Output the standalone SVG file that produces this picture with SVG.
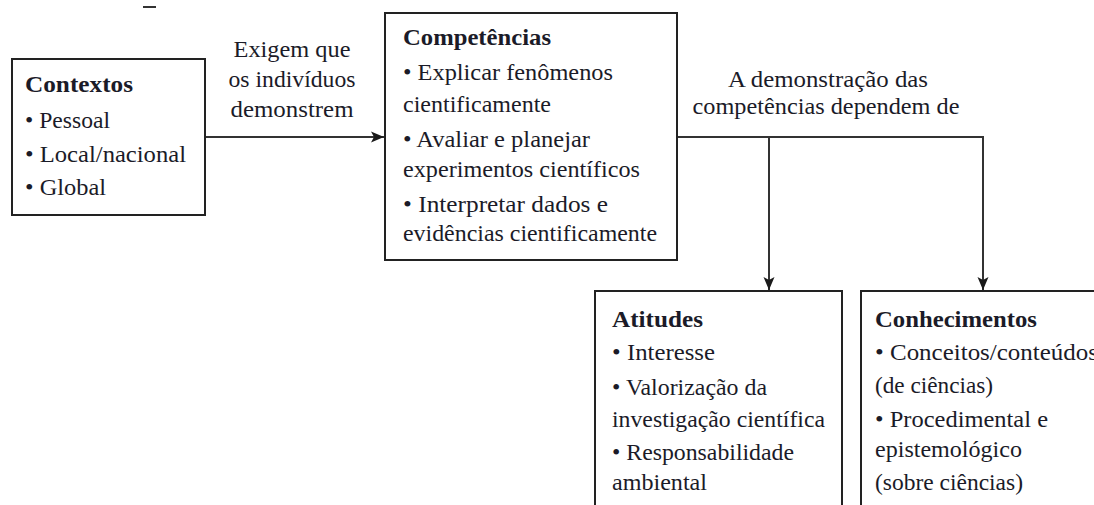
<svg xmlns="http://www.w3.org/2000/svg" width="1094" height="505" viewBox="0 0 1094 505">
  <defs>
    <marker id="arrow" markerUnits="userSpaceOnUse" markerWidth="14" markerHeight="12" refX="13" refY="6" orient="auto">
      <path d="M0,0.5 L13,6 L0,11.5 L3,6 Z" fill="#1a1a1a"/>
    </marker>
    <style>
      .box { fill: #ffffff; stroke: #222222; stroke-width: 2; }
      .conn { fill: none; stroke: #333333; stroke-width: 2; }
      text { font-family: "Liberation Serif", "DejaVu Serif", serif; font-size: 23px; fill: #1b1b28; }
      .title { font-weight: bold; }
      .mid { text-anchor: middle; }
    </style>
  </defs>
  <rect x="0" y="0" width="1094" height="505" fill="#ffffff"/>
  <rect x="143" y="6" width="13" height="2" fill="#333333"/>

  <g id="connectors">
    <path class="conn" d="M205,137 H384" marker-end="url(#arrow)"/>
    <path class="conn" d="M677,137 H983 V290" marker-end="url(#arrow)"/>
    <path class="conn" d="M769,137 V290" marker-end="url(#arrow)"/>
    <g id="label-exigem">
      <text class="mid" x="292" y="57" textLength="117" lengthAdjust="spacingAndGlyphs">Exigem que</text>
      <text class="mid" x="292" y="87" textLength="127" lengthAdjust="spacingAndGlyphs">os indivíduos</text>
      <text class="mid" x="292" y="117" textLength="123" lengthAdjust="spacingAndGlyphs">demonstrem</text>
    </g>
    <g id="label-demonstracao">
      <text class="mid" x="828" y="87" textLength="200" lengthAdjust="spacingAndGlyphs">A demonstração das</text>
      <text class="mid" x="826" y="114" textLength="267" lengthAdjust="spacingAndGlyphs">competências dependem de</text>
    </g>
  </g>

  <g id="contextos">
    <rect class="box" x="12" y="59" width="193" height="156"/>
    <text class="title" x="25" y="92" textLength="108" lengthAdjust="spacingAndGlyphs">Contextos</text>
    <text x="25" y="128" textLength="85" lengthAdjust="spacingAndGlyphs">• Pessoal</text>
    <text x="25" y="162" textLength="161" lengthAdjust="spacingAndGlyphs">• Local/nacional</text>
    <text x="25" y="195" textLength="81" lengthAdjust="spacingAndGlyphs">• Global</text>
  </g>

  <g id="competencias">
    <rect class="box" x="385" y="13" width="292" height="247"/>
    <text class="title" x="403" y="45" textLength="148" lengthAdjust="spacingAndGlyphs">Competências</text>
    <text x="403" y="80" textLength="210" lengthAdjust="spacingAndGlyphs">• Explicar fenômenos</text>
    <text x="403" y="112" textLength="148" lengthAdjust="spacingAndGlyphs">cientificamente</text>
    <text x="403" y="147" textLength="187" lengthAdjust="spacingAndGlyphs">• Avaliar e planejar</text>
    <text x="403" y="177" textLength="237" lengthAdjust="spacingAndGlyphs">experimentos científicos</text>
    <text x="403" y="212" textLength="205" lengthAdjust="spacingAndGlyphs">• Interpretar dados e</text>
    <text x="403" y="241" textLength="254" lengthAdjust="spacingAndGlyphs">evidências cientificamente</text>
  </g>

  <g id="atitudes">
    <rect class="box" x="595" y="291" width="247" height="260"/>
    <text class="title" x="612" y="327" textLength="91" lengthAdjust="spacingAndGlyphs">Atitudes</text>
    <text x="612" y="360" textLength="103" lengthAdjust="spacingAndGlyphs">• Interesse</text>
    <text x="612" y="395" textLength="155" lengthAdjust="spacingAndGlyphs">• Valorização da</text>
    <text x="612" y="427" textLength="213" lengthAdjust="spacingAndGlyphs">investigação científica</text>
    <text x="612" y="460" textLength="182" lengthAdjust="spacingAndGlyphs">• Responsabilidade</text>
    <text x="612" y="490" textLength="95" lengthAdjust="spacingAndGlyphs">ambiental</text>
  </g>

  <g id="conhecimentos">
    <rect class="box" x="861" y="291" width="300" height="260"/>
    <text class="title" x="875" y="327" textLength="162" lengthAdjust="spacingAndGlyphs">Conhecimentos</text>
    <text x="875" y="360" textLength="223" lengthAdjust="spacingAndGlyphs">• Conceitos/conteúdos</text>
    <text x="875" y="393" textLength="118" lengthAdjust="spacingAndGlyphs">(de ciências)</text>
    <text x="875" y="427" textLength="173" lengthAdjust="spacingAndGlyphs">• Procedimental e</text>
    <text x="875" y="457" textLength="147" lengthAdjust="spacingAndGlyphs">epistemológico</text>
    <text x="875" y="490" textLength="148" lengthAdjust="spacingAndGlyphs">(sobre ciências)</text>
  </g>
</svg>
